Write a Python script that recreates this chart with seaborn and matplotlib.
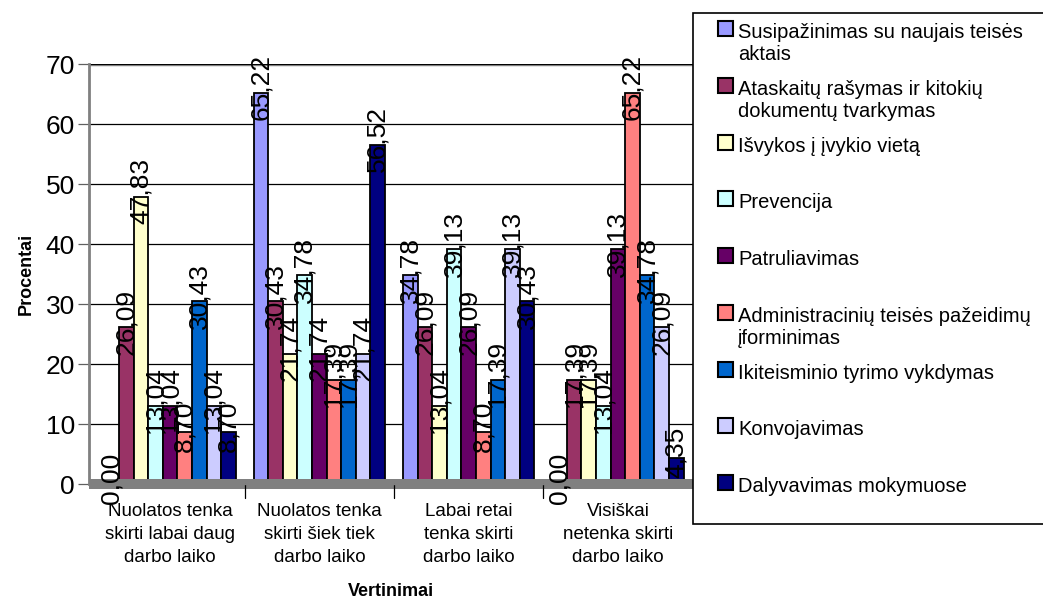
import matplotlib
matplotlib.use("Agg")
import matplotlib.pyplot as plt
from matplotlib.patches import Rectangle
import seaborn as sns
import pandas as pd

categories = [
    "Nuolatos tenka\nskirti labai daug\ndarbo laiko",
    "Nuolatos tenka\nskirti šiek tiek\ndarbo laiko",
    "Labai retai\ntenka skirti\ndarbo laiko",
    "Visiškai\nnetenka skirti\ndarbo laiko",
]
series_names = [
    "Susipažinimas su naujais teisės\naktais",
    "Ataskaitų rašymas ir kitokių\ndokumentų tvarkymas",
    "Išvykos į įvykio vietą",
    "Prevencija",
    "Patruliavimas",
    "Administracinių teisės pažeidimų\nįforminimas",
    "Ikiteisminio tyrimo vykdymas",
    "Konvojavimas",
    "Dalyvavimas mokymuose",
]
susipazinimas = [0.00, 65.22, 34.78, 0.00]
ataskaitos = [26.09, 30.43, 26.09, 17.39]
isvykos = [47.83, 21.74, 13.04, 17.39]
prevencija = [13.04, 34.78, 39.13, 13.04]
patruliavimas = [13.04, 21.74, 26.09, 39.13]
administraciniu = [8.70, 17.39, 8.70, 65.22]
ikiteisminio = [30.43, 17.39, 17.39, 34.78]
konvojavimas = [13.04, 21.74, 39.13, 26.09]
dalyvavimas = [8.70, 56.52, 30.43, 4.35]
all_values = [susipazinimas, ataskaitos, isvykos, prevencija, patruliavimas,
              administraciniu, ikiteisminio, konvojavimas, dalyvavimas]
colors = ["#9999FF", "#993366", "#FFFFCC", "#CCFFFF", "#660066",
          "#FF8080", "#0066CC", "#CCCCFF", "#000080"]

rows = []
for s, vals in zip(series_names, all_values):
    for c, v in zip(categories, vals):
        rows.append({"cat": c, "series": s, "val": v})
df = pd.DataFrame(rows)

sns.set_theme(style="white")
plt.rcParams["font.family"] = ["Liberation Sans", "DejaVu Sans"]
plt.rcParams["text.color"] = "black"
plt.rcParams["axes.labelcolor"] = "black"
plt.rcParams["xtick.color"] = "black"
plt.rcParams["ytick.color"] = "black"

W, H = 1043, 608
fig = plt.figure(figsize=(W / 100, H / 100), dpi=100)
ax_left, ax_right, ax_bottom, ax_top = 89, 693, 484, 64
ax = fig.add_axes([ax_left / W, 1 - ax_bottom / H, (ax_right - ax_left) / W,
                   (ax_bottom - ax_top) / H])

sns.barplot(data=df, x="cat", y="val", hue="series", palette=colors,
            order=categories, hue_order=series_names, width=0.88,
            edgecolor="black", linewidth=1.3, saturation=1, legend=False, ax=ax)

ax.set_xlim(-0.543, 3.503)
ax.set_ylim(0, 70)
ax.set_yticks(range(0, 71, 10))
ax.yaxis.grid(True, color="black", linewidth=0.9)
ax.set_axisbelow(True)
ax.tick_params(axis="y", labelsize=19, length=8, width=0.9, color="#606060",
               left=True, pad=2, labelcolor="black")
ax.tick_params(axis="x", labelsize=13.5, length=0, pad=14, labelcolor="black")
for lab in ax.get_xticklabels():
    lab.set_linespacing(1.45)
for side in ["top", "right"]:
    ax.spines[side].set_visible(False)
ax.spines["left"].set_color("#808080")
ax.spines["left"].set_linewidth(2)
ax.spines["bottom"].set_color("#808080")
ax.spines["bottom"].set_linewidth(1)
ax.axhline(70, color="#909090", linewidth=2.5, zorder=0)

# floor
ax.add_patch(Rectangle((0, -0.012), 1.0, 0.024, transform=ax.transAxes,
                       facecolor="#808080", edgecolor="none", clip_on=False,
                       zorder=1))
for xt in [0.5, 1.5, 2.5]:
    ax.plot([xt, xt], [0, -2.3], color="black", lw=0.9, clip_on=False,
            transform=ax.transData)

for cont, vals in zip(ax.containers, all_values):
    for bar, v in zip(cont, vals):
        cx = bar.get_x() + bar.get_width() / 2
        ax.annotate(f"{v:.2f}".replace(".", ","), (cx, v), xytext=(0, 4),
                    textcoords="offset points", rotation=90, ha="center",
                    va="center", fontsize=19, color="black", zorder=5)

ax.set_xlabel("Vertinimai", fontsize=13, fontweight="bold", labelpad=12,
              color="black")
ax.set_ylabel("Procentai", fontsize=13, fontweight="bold", labelpad=8,
              color="black")

# legend box
lx0, ly0, lx1, ly1 = 693, 13, 1070, 524
fig.patches.append(Rectangle((lx0 / W, 1 - ly1 / H), (lx1 - lx0) / W,
                             (ly1 - ly0) / H, transform=fig.transFigure,
                             facecolor="white", edgecolor="black", lw=1.2))
ys = [28, 85, 142, 198, 255, 312, 369, 425, 482]
for name, col, y in zip(series_names, colors, ys):
    fig.patches.append(Rectangle((718 / W, 1 - (y + 8) / H), 15 / W, 15 / H,
                                 transform=fig.transFigure, facecolor=col,
                                 edgecolor="black", lw=1.5))
    fig.text(738 / W, 1 - (y - 5) / H, name, fontsize=14.5, va="top",
             ha="left", linespacing=1.22, color="black")

fig.savefig("out.png", dpi=100)
